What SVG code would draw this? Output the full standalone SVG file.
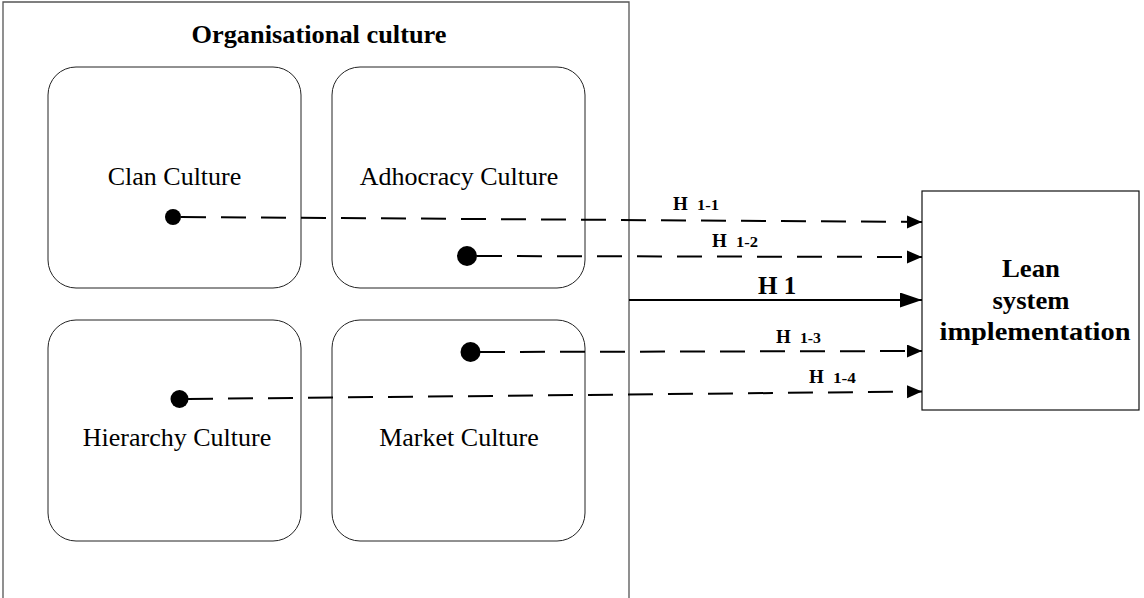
<svg xmlns="http://www.w3.org/2000/svg" width="1144" height="598" viewBox="0 0 1144 598">
  <style>
    .frame { fill: #ffffff; stroke: #555555; stroke-width: 1.3; }
    .culture { fill: #ffffff; stroke: #222222; stroke-width: 1; }
    .target { fill: #ffffff; stroke: #111111; stroke-width: 1.2; }
    .lbl { font-family: "Liberation Serif", "Times New Roman", serif; fill: #000000; }
    .name { font-size: 26px; text-anchor: middle; }
    .bold { font-weight: bold; }
    .dash { stroke: #000000; stroke-width: 2; stroke-dasharray: 25 15; fill: none; }
    .solid { stroke: #000000; stroke-width: 2; fill: none; }
    .dot { fill: #000000; }
    .h { font-size: 19px; font-weight: bold; }
    .sub { font-size: 14px; font-weight: bold; }
  </style>
  <defs>
    <marker id="arrowSmall" markerUnits="userSpaceOnUse" markerWidth="16" markerHeight="14" refX="15" refY="6.5" orient="auto">
      <path d="M0,0 L15,6.5 L0,13 Z" fill="#000000"/>
    </marker>
    <marker id="arrowLarge" markerUnits="userSpaceOnUse" markerWidth="23" markerHeight="16" refX="22" refY="7.5" orient="auto">
      <path d="M0,0 L22,7.5 L0,15 Z" fill="#000000"/>
    </marker>
  </defs>

  <rect width="1144" height="598" fill="#ffffff"/>

  <!-- container: organisational culture -->
  <g id="organisational-culture">
    <path class="frame" d="M3,600 L3,2 L629,2 L629,600"/>
    <text class="lbl bold" x="319" y="43" font-size="25" text-anchor="middle" textLength="255" lengthAdjust="spacingAndGlyphs">Organisational culture</text>
  </g>

  <g id="clan-culture">
    <rect class="culture" x="48" y="67" width="253" height="221" rx="28" ry="28"/>
    <text class="lbl name" x="174.5" y="185">Clan Culture</text>
  </g>

  <g id="adhocracy-culture">
    <rect class="culture" x="332" y="67" width="253" height="221" rx="28" ry="28"/>
    <text class="lbl name" x="459" y="185">Adhocracy Culture</text>
  </g>

  <g id="hierarchy-culture">
    <rect class="culture" x="48" y="320" width="253" height="221" rx="28" ry="28"/>
    <text class="lbl name" x="177" y="446">Hierarchy Culture</text>
  </g>

  <g id="market-culture">
    <rect class="culture" x="332" y="320" width="253" height="221" rx="28" ry="28"/>
    <text class="lbl name" x="459" y="446">Market Culture</text>
  </g>

  <!-- outcome -->
  <g id="lean-system-implementation">
    <rect class="target" x="922" y="191" width="217" height="219"/>
    <text class="lbl bold" x="1031" y="277" font-size="25" text-anchor="middle" textLength="58" lengthAdjust="spacingAndGlyphs">Lean</text>
    <text class="lbl bold" x="1031" y="309" font-size="25" text-anchor="middle" textLength="77" lengthAdjust="spacingAndGlyphs">system</text>
    <text class="lbl bold" x="1035" y="340" font-size="25" text-anchor="middle" textLength="191" lengthAdjust="spacingAndGlyphs">implementation</text>
  </g>

  <!-- hypotheses -->
  <g id="connectors">
    <!-- H 1-1: clan -> lean -->
    <line class="dash" x1="181" y1="217" x2="922" y2="222" marker-end="url(#arrowSmall)"/>
    <circle class="dot" cx="173" cy="217" r="8"/>
    <text class="lbl"><tspan class="h" x="673" y="210">H</tspan><tspan class="sub" x="697" y="210" textLength="22" lengthAdjust="spacingAndGlyphs">1-1</tspan></text>

    <!-- H 1-2: adhocracy -> lean -->
    <line class="dash" x1="477" y1="256" x2="922" y2="257" marker-end="url(#arrowSmall)"/>
    <circle class="dot" cx="467" cy="256" r="10"/>
    <text class="lbl"><tspan class="h" x="712" y="247">H</tspan><tspan class="sub" x="736" y="247" textLength="22" lengthAdjust="spacingAndGlyphs">1-2</tspan></text>

    <!-- H 1: overall culture -> lean -->
    <line class="solid" x1="629" y1="300" x2="922" y2="300" marker-end="url(#arrowLarge)"/>
    <text class="lbl bold" x="758" y="294" font-size="25">H 1</text>

    <!-- H 1-3: market -> lean -->
    <line class="dash" x1="480" y1="352" x2="922" y2="351" marker-end="url(#arrowSmall)"/>
    <circle class="dot" cx="470.5" cy="352" r="10"/>
    <text class="lbl"><tspan class="h" x="776" y="343">H</tspan><tspan class="sub" x="800" y="343" textLength="21" lengthAdjust="spacingAndGlyphs">1-3</tspan></text>

    <!-- H 1-4: hierarchy -> lean -->
    <line class="dash" x1="188" y1="399" x2="922" y2="391.5" marker-end="url(#arrowSmall)"/>
    <circle class="dot" cx="179.5" cy="399" r="9"/>
    <text class="lbl"><tspan class="h" x="809" y="383">H</tspan><tspan class="sub" x="833" y="383" textLength="23" lengthAdjust="spacingAndGlyphs">1-4</tspan></text>
  </g>
</svg>
